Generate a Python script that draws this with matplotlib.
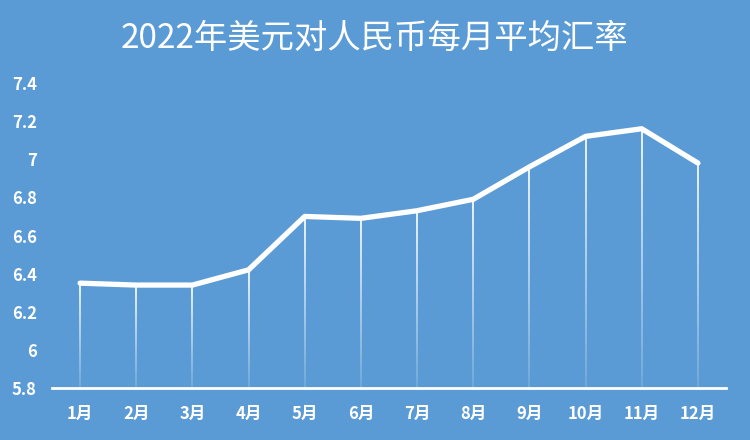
import numpy as np
import matplotlib
matplotlib.use('Agg')
import matplotlib.pyplot as plt
from matplotlib.collections import LineCollection
from matplotlib.ticker import FuncFormatter

# data
months = ['1月', '2月', '3月', '4月', '5月', '6月', '7月', '8月', '9月', '10月', '11月', '12月']
rates = [6.35, 6.34, 6.34, 6.42, 6.70, 6.69, 6.73, 6.79, 6.96, 7.12, 7.16, 6.98]
yticks = [5.8, 6.0, 6.2, 6.4, 6.6, 6.8, 7.0, 7.2, 7.4]

plt.rcParams['font.family'] = ['Noto Sans CJK SC', 'DejaVu Sans']
bg = '#5b9bd5'

fig = plt.figure(figsize=(7.5, 4.4), dpi=100, facecolor=bg)
ax = fig.add_axes([52/750, 1-388/440, 674/750, 305/440], facecolor=bg)

x = np.arange(len(months))
ymin = yticks[0]

# drop lines fading toward the axis
for xi, yi in zip(x, rates):
    n = 40
    ys = np.linspace(ymin, yi, n + 1)
    segs = [[(xi, ys[i]), (xi, ys[i + 1])] for i in range(n)]
    alphas = np.linspace(0.15, 0.95, n)
    cols = [(1, 1, 1, a) for a in alphas]
    ax.add_collection(LineCollection(segs, colors=cols, linewidths=1.3, zorder=2))

ax.plot(x, rates, color='white', linewidth=3.8, solid_capstyle='round',
        solid_joinstyle='round', zorder=3)

ax.set_xlim(-0.5, len(months) - 0.5)
ax.set_ylim(yticks[0], yticks[-1])
ax.set_yticks(yticks)
ax.yaxis.set_major_formatter(FuncFormatter(lambda v, p: '%g' % round(v, 1)))
ax.set_xticks(x)
ax.set_xticklabels(months)

for s in ['top', 'right', 'left']:
    ax.spines[s].set_visible(False)
ax.spines['bottom'].set_color('white')
ax.spines['bottom'].set_linewidth(2)

ax.tick_params(axis='both', length=0, colors='white', labelsize=12)
ax.tick_params(axis='x', pad=12)
ax.tick_params(axis='y', pad=11)
for lab in ax.get_xticklabels() + ax.get_yticklabels():
    lab.set_fontweight('bold')

fig.text(0.5, 1 - 38/440, '2022年美元对人民币每月平均汇率', ha='center', va='center',
         color='white', fontsize=24, fontweight='medium')

fig.savefig('out.png', dpi=100, facecolor=bg)
